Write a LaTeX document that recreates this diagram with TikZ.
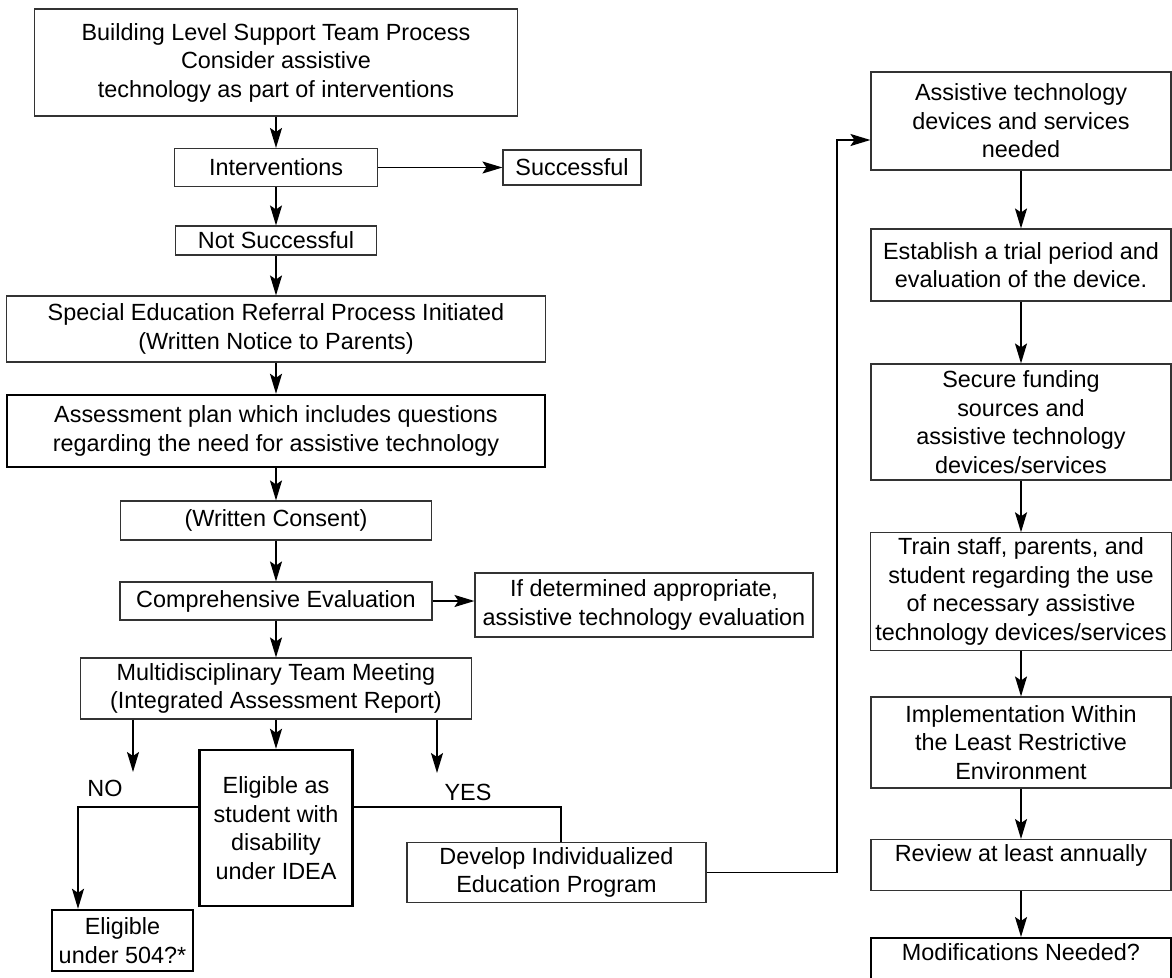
\documentclass[tikz,border=0pt]{standalone}
\usepackage{fontspec}
\setmainfont{Liberation Sans}
\usepackage{tikz}
\usetikzlibrary{arrows.meta}
\tikzstyle{box} = [rectangle, draw=black!80, line width=1.1pt, align=center, inner sep=5pt]
\tikzstyle{thickbox} = [rectangle, draw=black, line width=2.4pt, align=center, inner sep=5pt]
\tikzstyle{label} = [inner sep=0pt]
\tikzstyle{arrow} = [line width=1.8pt,->,>={Stealth[length=20pt,width=12pt,inset=4pt]}]
\tikzstyle{link} = [line width=1.8pt]

\begin{document}
\begin{tikzpicture}[x=1pt, y=-1pt, font=\fontsize{23.4}{28.5}\selectfont]

\path [use as bounding box, clip] (0,0) rectangle (1172,977);

\node (bltp) [box, minimum width=483pt, minimum height=107pt] at (276,62.5) {Building Level Support Team Process\\Consider assistive\\technology as part of interventions};
\node (interv) [box, minimum width=203pt, minimum height=38pt] at (276,167.5) {Interventions};
\node (succ) [box, minimum width=138pt, minimum height=35pt] at (572,167.5) {Successful};
\node (notsucc) [box, minimum width=201pt, minimum height=29pt] at (276,240.5) {Not Successful};
\node (referral) [box, minimum width=539pt, minimum height=66pt] at (276,329) {Special Education Referral Process Initiated\\(Written Notice to Parents)};
\node (assess) [thickbox, minimum width=538pt, minimum height=72pt] at (276,431) {Assessment plan which includes questions\\regarding the need for assistive technology};
\node (consent) [box, minimum width=311pt, minimum height=39pt] at (276,520.5) {(Written Consent)};
\node (compeval) [box, minimum width=312pt, minimum height=38pt] at (276,601) {Comprehensive Evaluation};
\node (ateval) [box, minimum width=338pt, minimum height=64pt] at (644,605) {If determined appropriate,\\assistive technology evaluation};
\node (mdt) [box, minimum width=391pt, minimum height=61pt] at (276,688.5) {Multidisciplinary Team Meeting\\(Integrated Assessment Report)};

\node (eligible) [thickbox, minimum width=153pt, minimum height=156pt] at (276,828) {Eligible as\\student with\\disability\\under IDEA};
\node (elig504) [thickbox, minimum width=141pt, minimum height=61pt] at (122.5,940.5) {Eligible\\under 504?*};
\node (iep) [box, minimum width=299pt, minimum height=59pt] at (556.5,872.5) {Develop Individualized\\Education Program};
\node (nolbl) [label] at (105,788) {NO};
\node (yeslbl) [label] at (468,792) {YES};

\node (atneed) [box, minimum width=300pt, minimum height=98pt] at (1021,121) {Assistive technology\\devices and services\\needed};
\node (trial) [box, minimum width=300pt, minimum height=72pt] at (1021,265) {Establish a trial period and\\evaluation of the device.};
\node (funding) [box, minimum width=300pt, minimum height=116pt] at (1021,422) {Secure funding\\sources and\\assistive technology\\devices/services};
\node (train) [box, minimum width=300pt, minimum height=117pt] at (1021,591.5) {Train staff, parents, and\\student regarding the use\\of necessary assistive\\technology devices/services};
\node (lre) [box, minimum width=300pt, minimum height=91pt] at (1021,742.5) {Implementation Within\\the Least Restrictive\\Environment};
\node (review) [box, minimum width=300pt, text depth=24pt, anchor=north] at (1021,839) {Review at least annually};
\node (modif) [thickbox, minimum width=300pt, text depth=40pt, anchor=north] at (1021,937) {Modifications Needed?};

\coordinate (noend) at (133,772);
\coordinate (yesend) at (437,773);
\coordinate (nobend) at (78,807);
\coordinate (yesbend) at (561,807);
\coordinate (upturn) at (837,140);

\draw [arrow] (bltp) -- (interv);
\draw [arrow] (interv) -- (succ);
\draw [arrow] (interv) -- (notsucc);
\draw [arrow] (notsucc) -- (referral);
\draw [arrow] (referral) -- (assess);
\draw [arrow] (assess) -- (consent);
\draw [arrow] (consent) -- (compeval);
\draw [arrow] (compeval.east) -- (compeval.east -| ateval.west);
\draw [arrow] (compeval) -- (mdt);

\draw [arrow] (mdt.south -| noend) -- (noend);
\draw [arrow] (mdt) -- (eligible);
\draw [arrow] (mdt.south -| yesend) -- (yesend);
\draw [arrow] (eligible.west |- nobend) -- (nobend) -- (elig504.north -| nobend);
\draw [link] (eligible.east |- yesbend) -- (yesbend) -- (iep.north -| yesbend);
\draw [arrow] (iep.east) -| (upturn) -- (atneed.west |- upturn);

\draw [arrow] (atneed) -- (trial);
\draw [arrow] (trial) -- (funding);
\draw [arrow] (funding) -- (train);
\draw [arrow] (train) -- (lre);
\draw [arrow] (lre) -- (review);
\draw [arrow] (review) -- (modif);

\end{tikzpicture}
\end{document}
